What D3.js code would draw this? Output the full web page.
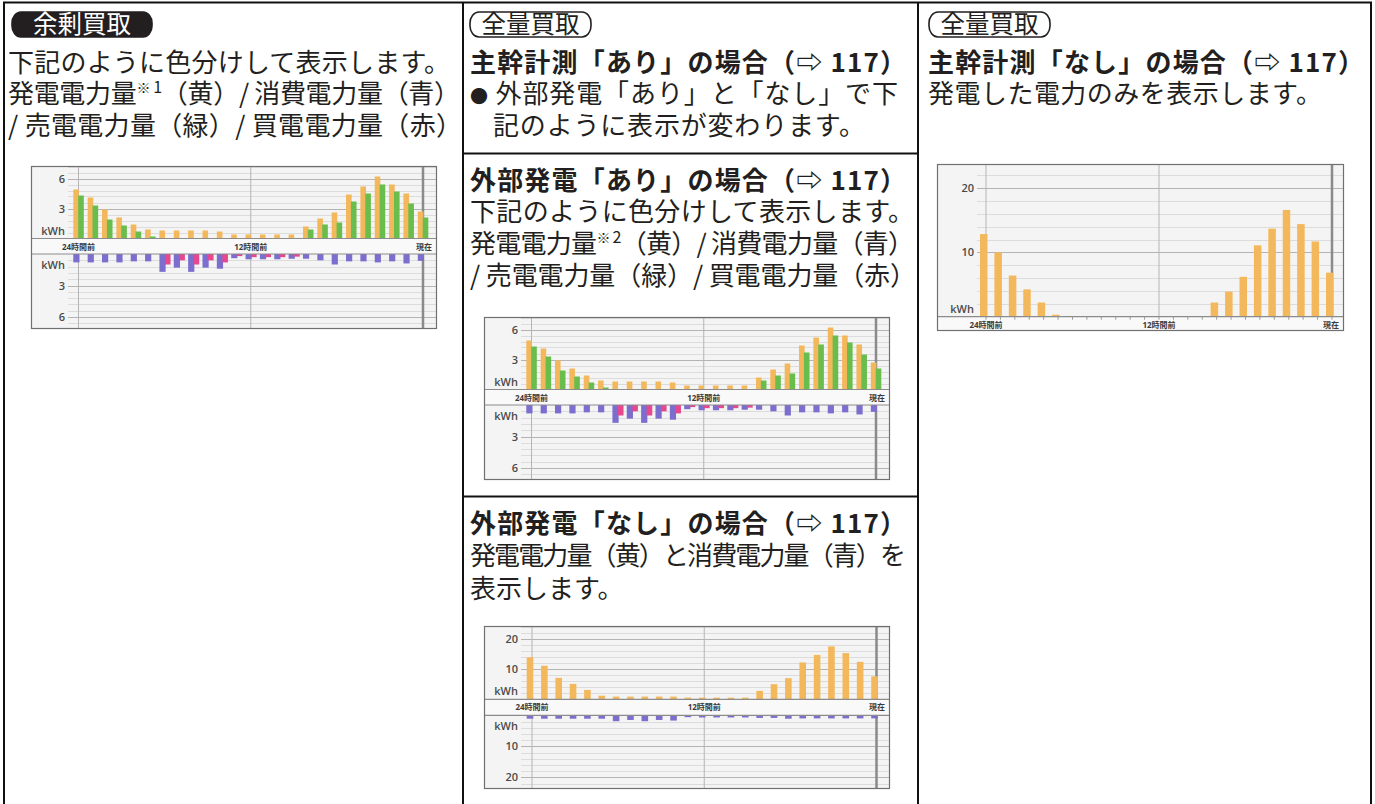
<!DOCTYPE html>
<html>
<head>
<meta charset="utf-8">
<script src="https://cdn.jsdelivr.net/npm/d3@7"></script>
<style>
  html, body { margin: 0; padding: 0; background: #fff; }
  svg { display: block; }
</style>
</head>
<body>
<script>
var width = 1375,
    height = 804;

// hour slots, 24 hours ago -> now
var hourSlots = [-24, -23, -22, -21, -20, -19, -18, -17, -16, -15, -14, -13, -12,
  -11, -10, -9, -8, -7, -6, -5, -4, -3, -2, -1, 0];
var timeMarks = [-24, -12, 0];
var timeLabels = ['24時間前', '12時間前', '現在'];

// 余剰買取 / 外部発電あり (kWh)
var generated = [4.9, 4.1, 2.9, 2.1, 1.4, 0.9, 0.8, 0.8, 0.8, 0.8, 0.7, 0.4, 0.4,
  0.4, 0.4, 0.4, 1.2, 2.0, 2.6, 4.4, 5.2, 6.2, 5.4, 4.5, 2.7];
var sold = [4.3, 3.3, 1.9, 1.3, 0.7, 0.2, 0, 0, 0, 0, 0, 0, 0,
  0, 0, 0, 0.9, 1.4, 1.6, 3.7, 4.5, 5.4, 4.7, 3.5, 2.1];
var consumed = [0.8, 0.8, 0.8, 0.8, 0.7, 0.7, 1.7, 1.3, 1.7, 1.3, 1.4, 0.4, 0.5,
  0.5, 0.5, 0.45, 0.45, 0.6, 1.0, 0.7, 0.7, 0.8, 0.7, 0.9, 0.65];
var bought = [0, 0, 0, 0, 0, 0, 1.0, 0.6, 1.0, 0.6, 0.8, 0.2, 0.3,
  0.3, 0.3, 0.25, 0, 0, 0, 0, 0, 0, 0, 0, 0];

// 外部発電なし (kWh)
var generatedNoExt = [13.9, 11.1, 7.1, 5.1, 3.1, 1.2, 0.9, 0.9, 0.9, 0.9, 0.9, 0.55, 0.55,
  0.55, 0.55, 0.55, 2.8, 5.0, 7.0, 12.2, 14.7, 17.5, 15.3, 12.4, 7.6];
var consumedNoExt = [1.1, 1.1, 1.1, 1.1, 1.1, 1.1, 1.9, 1.5, 1.9, 1.5, 1.7, 0.6, 0.7,
  0.7, 0.7, 0.7, 0.85, 0.85, 1.1, 1.0, 1.0, 1.0, 1.0, 1.0, 1.0];

// 主幹計測なし (kWh)
var generatedOnly = [12.85, 10.0, 6.4, 4.25, 2.2, 0.3, 0, 0, 0, 0, 0, 0, 0,
  0, 0, 0, 2.2, 3.9, 6.2, 11.1, 13.7, 16.6, 14.4, 11.7, 6.85];

var ticksSmall = [3, 6];
var ticksLarge = [10, 20];

var colors = { gen: '#f3b85c', sell: '#69bd4c', use: '#7b6ecf', buy: '#e6478e' };
var fontJP = "'Noto Sans CJK JP', 'Noto Sans CJK SC', sans-serif";
var fontChart = "'Open Sans', 'Noto Sans', 'Noto Sans CJK JP', sans-serif";

var svg = d3.select('body')
  .append('svg')
  .attr('width', width)
  .attr('height', height);

// table rules
var rules = [
  [3, 2.5, 1372, 2.5], [4, 2, 4, height], [1371, 2, 1371, height],
  [463, 2, 463, height], [918, 2, 918, height],
  [463, 153.5, 918, 153.5], [463, 496.5, 918, 496.5]
];
svg.selectAll('line.rule')
  .data(rules)
  .enter().append('line')
  .attr('class', 'rule')
  .attr('x1', function(d) { return d[0]; })
  .attr('y1', function(d) { return d[1]; })
  .attr('x2', function(d) { return d[2]; })
  .attr('y2', function(d) { return d[3]; })
  .attr('stroke', '#111')
  .attr('stroke-width', 2);

function badge(x, y, w, h, label, filled) {
  svg.append('rect')
    .attr('x', x).attr('y', y).attr('width', w).attr('height', h)
    .attr('rx', 9).attr('ry', 11)
    .attr('fill', filled ? '#231f20' : '#fff')
    .attr('stroke', '#231f20')
    .attr('stroke-width', 1.6);
  svg.append('text')
    .attr('x', x + w / 2).attr('y', y + h / 2 + 8.5)
    .attr('text-anchor', 'middle')
    .attr('font-family', fontJP)
    .attr('font-size', 24.5)
    .attr('fill', filled ? '#fff' : '#231f20')
    .text(label);
}

// parts: plain strings, or {t, size, dy} for superscripts / small marks
// len: total advance, so the line spans the same width as the print
function textLine(x, y, parts, len, bold) {
  var t = svg.append('text')
    .attr('x', x).attr('y', y)
    .attr('font-family', fontJP)
    .attr('font-size', 26)
    .attr('font-weight', bold ? 700 : 400)
    .attr('fill', '#231f20');
  if (len) t.attr('textLength', len).attr('lengthAdjust', 'spacing');
  parts.forEach(function(p) {
    if (typeof p === 'string') t.append('tspan').text(p);
    else t.append('tspan').attr('font-size', p.size).attr('dy', p.dy).text(p.t);
  });
}

function noteParts(n) {
  return ['発電電力量', { t: '※', size: 14, dy: -10 }, { t: '\u00a0' + n, size: 16, dy: 0 },
    { t: '（黄）/ 消費電力量（青）', size: 26, dy: 10 }];
}

// column 1
badge(12, 12, 140, 25, '余剰買取', true);
textLine(8, 71.5, ['下記のように色分けして表示します。'], 442);
textLine(8, 102.5, noteParts(1), 452);
textLine(8, 134.5, ['/ 売電電力量（緑）/ 買電電力量（赤）'], 454);

// column 2
badge(470, 12, 121, 25, '全量買取', false);
textLine(470, 71.5, ['主幹計測「あり」の場合（⇨ 117）'], 436, true);
textLine(470, 102.5, [{ t: '●', size: 18, dy: 0 }, { t: '\u00a0外部発電「あり」と「なし」で下', size: 26, dy: 0 }], 428);
textLine(493, 134.5, ['記のように表示が変わります。'], 372);
textLine(470, 189.5, ['外部発電「あり」の場合（⇨ 117）'], 436, true);
textLine(470, 220.5, ['下記のように色分けして表示します。'], 444);
textLine(470, 252.5, noteParts(2), 444);
textLine(470, 284.5, ['/ 売電電力量（緑）/ 買電電力量（赤）'], 446);
textLine(470, 532.5, ['外部発電「なし」の場合（⇨ 117）'], 436, true);
textLine(470, 564.5, ['発電電力量（黄）と消費電力量（青）を'], 436);
textLine(470, 597.5, ['表示します。']);

// column 3
badge(929, 12, 121, 25, '全量買取', false);
textLine(928, 71.5, ['主幹計測「なし」の場合（⇨ 117）'], 436, true);
textLine(928, 102.5, ['発電した電力のみを表示します。'], 394);

var chartCount = 0;

function drawChart(cfg) {
  chartCount += 1;
  var clipId = 'clip' + chartCount;
  var g = svg.append('g')
    .attr('transform', 'translate(' + cfg.x + ',' + cfg.y + ')');
  g.append('clipPath').attr('id', clipId)
    .append('rect').attr('width', cfg.w).attr('height', cfg.h);
  var body = g.append('g').attr('clip-path', 'url(#' + clipId + ')');

  body.append('rect')
    .attr('width', cfg.w).attr('height', cfg.h)
    .attr('fill', '#f4f4f4');

  var x = d3.scalePoint().domain(hourSlots).range(cfg.lineX);
  var yUp = d3.scaleLinear()
    .domain([0, cfg.upZero / cfg.upPx])
    .range([cfg.upZero, 0]);
  var lowZero = cfg.upZero + cfg.band;
  var yLow = null;
  if (cfg.lower) {
    yLow = d3.scaleLinear()
      .domain([0, (cfg.h - lowZero) / cfg.lowPx])
      .range([lowZero, cfg.h]);
  }

  // horizontal grid, every `minor` kWh, darker on ticks
  function grid(scale) {
    var top = scale.domain()[1];
    var lines = [];
    for (var i = 1; i * cfg.minor <= top; i++) lines.push(i);
    body.append('g').selectAll('line')
      .data(lines)
      .enter().append('line')
      .attr('x1', cfg.gridX).attr('x2', cfg.w)
      .attr('y1', function(i) { return Math.round(scale(i * cfg.minor)) + 0.5; })
      .attr('y2', function(i) { return Math.round(scale(i * cfg.minor)) + 0.5; })
      .attr('stroke', function(i) { return i % 5 === 0 ? '#b4b4b4' : '#dcdcdc'; })
      .attr('stroke-width', function(i) { return i % 5 === 0 ? 1.2 : 1; });
  }
  grid(yUp);
  if (yLow) grid(yLow);

  // vertical time lines
  body.append('g').selectAll('line')
    .data(timeMarks)
    .enter().append('line')
    .attr('x1', function(d) { return x(d); })
    .attr('x2', function(d) { return x(d); })
    .attr('y1', 0).attr('y2', cfg.h)
    .attr('stroke', function(d) { return d === 0 ? '#8a8a8a' : '#b5b5b5'; })
    .attr('stroke-width', function(d) { return d === 0 ? 2.5 : 1; });

  // bars
  cfg.upper.forEach(function(s) {
    body.append('g').selectAll('rect')
      .data(s.values)
      .enter().append('rect')
      .attr('x', function(d, i) { return x(hourSlots[i]) + s.dx; })
      .attr('width', s.bw)
      .attr('y', function(d) { return yUp(d); })
      .attr('height', function(d) { return yUp(0) - yUp(d); })
      .attr('fill', s.color);
  });
  (cfg.lower || []).forEach(function(s) {
    body.append('g').selectAll('rect')
      .data(s.values)
      .enter().append('rect')
      .attr('x', function(d, i) { return x(hourSlots[i]) + s.dx; })
      .attr('width', s.bw)
      .attr('y', lowZero)
      .attr('height', function(d) { return yLow(d) - lowZero; })
      .attr('fill', s.color);
  });

  // band with time labels between the two panels
  body.append('rect')
    .attr('x', 0).attr('y', cfg.upZero)
    .attr('width', cfg.w).attr('height', cfg.band)
    .attr('fill', '#f9f9f9');
  body.append('line')
    .attr('x1', 0).attr('x2', cfg.w)
    .attr('y1', cfg.upZero).attr('y2', cfg.upZero)
    .attr('stroke', '#8c8c8c').attr('stroke-width', 1.2);
  if (cfg.lower) {
    body.append('line')
      .attr('x1', 0).attr('x2', cfg.w)
      .attr('y1', lowZero).attr('y2', lowZero)
      .attr('stroke', '#8c8c8c').attr('stroke-width', 1.2);
  } else {
    // small hour ticks under the baseline
    body.append('g').selectAll('line')
      .data(hourSlots)
      .enter().append('line')
      .attr('x1', function(d) { return x(d); })
      .attr('x2', function(d) { return x(d); })
      .attr('y1', cfg.upZero).attr('y2', cfg.upZero + 3)
      .attr('stroke', '#999');
  }
  body.append('g').selectAll('text')
    .data(timeMarks)
    .enter().append('text')
    .attr('x', function(d) { return d === 0 ? cfg.w - 5 : x(d); })
    .attr('y', cfg.upZero + cfg.labelDy)
    .attr('text-anchor', function(d) { return d === 0 ? 'end' : 'middle'; })
    .attr('font-family', fontChart)
    .attr('font-size', 8)
    .attr('font-weight', 700)
    .attr('fill', '#3a3a3a')
    .text(function(d, i) { return timeLabels[i]; });

  // value axes
  function axis(scale, kwhY) {
    var a = body.append('g')
      .attr('transform', 'translate(' + cfg.axisX + ',0)')
      .call(d3.axisLeft(scale).tickValues(cfg.ticks).tickSize(0).tickPadding(0));
    a.select('.domain').remove();
    a.selectAll('text')
      .attr('font-family', fontChart)
      .attr('font-size', 11)
      .attr('font-weight', 600)
      .attr('fill', '#4a4a4a');
    body.append('text')
      .attr('x', cfg.axisX).attr('y', kwhY)
      .attr('text-anchor', 'end')
      .attr('font-family', fontChart)
      .attr('font-size', 11)
      .attr('font-weight', 600)
      .attr('fill', '#4a4a4a')
      .text('kWh');
  }
  axis(yUp, cfg.upZero - 4);
  if (yLow) axis(yLow, lowZero + 15);

  // frame
  g.append('rect')
    .attr('x', 0.5).attr('y', 0.5)
    .attr('width', cfg.w - 1).attr('height', cfg.h - 1)
    .attr('fill', 'none')
    .attr('stroke', '#707070')
    .attr('stroke-width', 1.2);
}

function pairCfg(x, y) {
  return {
    x: x, y: y, w: 406, h: 163,
    lineX: [47.5, 392], axisX: 34, gridX: 37,
    upZero: 72.5, upPx: 10, band: 15.5, lowPx: 10.5, labelDy: 11,
    ticks: ticksSmall, minor: 0.6,
    upper: [
      { values: generated, color: colors.gen, dx: -5.2, bw: 5.6 },
      { values: sold, color: colors.sell, dx: -0.3, bw: 5.6 }
    ],
    lower: [
      { values: consumed, color: colors.use, dx: -5.2, bw: 6.2 },
      { values: bought, color: colors.buy, dx: 0.3, bw: 5.6 }
    ]
  };
}

drawChart(pairCfg(31, 166));
drawChart(pairCfg(484, 317));

drawChart({
  x: 484, y: 626, w: 406, h: 163,
  lineX: [48, 392.5], axisX: 34, gridX: 37,
  upZero: 73.3, upPx: 3.02, band: 16, lowPx: 3.1, labelDy: 11,
  ticks: ticksLarge, minor: 2,
  upper: [{ values: generatedNoExt, color: colors.gen, dx: -5.3, bw: 6.6 }],
  lower: [{ values: consumedNoExt, color: colors.use, dx: -5.3, bw: 6.6 }]
});

drawChart({
  x: 937, y: 164, w: 407, h: 167,
  lineX: [49, 395], axisX: 37, gridX: 40,
  upZero: 152.7, upPx: 6.43, band: 16, labelDy: 11,
  ticks: ticksLarge, minor: 2,
  upper: [{ values: generatedOnly, color: colors.gen, dx: -6, bw: 7.5 }],
  lower: null
});
</script>
</body>
</html>
